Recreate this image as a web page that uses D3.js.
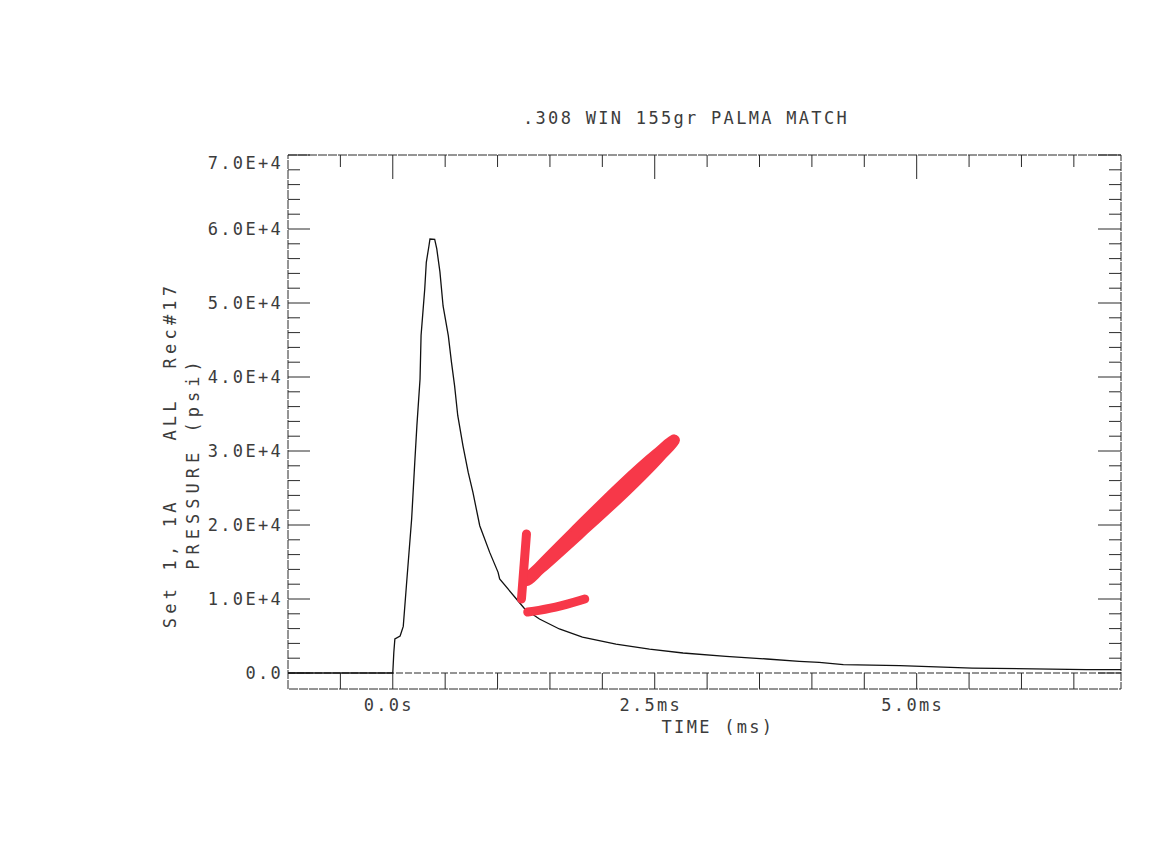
<!doctype html>
<html>
<head>
  <meta charset="utf-8">
  <title>.308 WIN 155gr PALMA MATCH</title>
  <style>
  body{ margin:0; background:#fff; }
  svg text{
    font-family: "DejaVu Sans Mono", "Liberation Mono", monospace;
    font-size: 17px;
    letter-spacing: 2.3px;
    fill: #3c3c3c;
    white-space: pre;
  }
  </style>
</head>
<body>
  <svg></svg>

  <script src="https://d3js.org/d3.v7.min.js"></script>
  <script>
  var width = 1170;
  var height = 850;

  // pressure trace: time (ms) and pressure (psi)
  var timeMs = [-1.0, 0.0, 0.01, 0.02, 0.07, 0.10, 0.13, 0.18, 0.21, 0.23, 0.26, 0.27, 0.29, 0.305,
    0.32, 0.345, 0.355, 0.40, 0.42, 0.45, 0.48, 0.53, 0.56, 0.59, 0.62, 0.67, 0.72, 0.765, 0.83,
    0.925, 1.005, 1.02, 1.18, 1.26, 1.40, 1.59, 1.81, 2.13, 2.45, 2.77, 3.18, 3.57, 3.88, 4.07,
    4.30, 4.84, 5.53, 6.62, 6.95];
  var pressure = [0, 0, 2800, 4600, 5000, 6300, 11800, 20800, 28500, 33400, 39700, 45600, 49200, 51900,
    55500, 57700, 58650, 58600, 57300, 54200, 49600, 45600, 42000, 38800, 34800, 30700, 27100, 24400, 19900,
    16300, 13600, 12700, 10000, 8650, 7300, 5950, 4860, 3900, 3240, 2700, 2250, 1890, 1580, 1440,
    1120, 990, 670, 450, 450];

  var yTicks = [0, 10000, 20000, 30000, 40000, 50000, 60000, 70000];
  var yTickLabels = ['0.0', '1.0E+4', '2.0E+4', '3.0E+4', '4.0E+4', '5.0E+4', '6.0E+4', '7.0E+4'];
  var xTicks = [0, 2.5, 5.0];
  var xTickLabels = ['0.0s', '2.5ms', '5.0ms'];

  var title = '.308 WIN 155gr PALMA MATCH';
  var xTitle = 'TIME (ms)';
  var yTitle = 'PRESSURE (psi)';
  var yInfo = 'Set 1, 1A    ALL  Rec#17';

  // hand drawn red arrow, in data units (ms, psi)
  var arrowShaft = [[2.707, 31750], [1.262, 12300]];
  var arrowLeft = [[1.276, 18800], [1.25, 14000], [1.228, 10000]];
  var arrowFoot = [[1.288, 8240], [1.55, 8800], [1.832, 10000]];

  var box = { left: 288, right: 1121, top: 155, bottom: 689 };

  var svg = d3.select('svg')
    .attr('width', width)
    .attr('height', height);

  var x = d3.scaleLinear().domain([-1, 6.95]).range([box.left, box.right]);
  var y = d3.scaleLinear().domain([0, 70000]).range([673, box.top]);

  var data = timeMs.map(function(t, i){ return { t: t, p: pressure[i] }; });

  // frame
  svg.append('rect')
    .attr('x', box.left).attr('y', box.top)
    .attr('width', box.right - box.left).attr('height', box.bottom - box.top)
    .attr('fill', 'none').attr('stroke', '#2a2a2a').attr('stroke-width', 1)
    .attr('stroke-dasharray', '9,1');

  // zero line
  svg.append('line')
    .attr('x1', box.left).attr('x2', box.right)
    .attr('y1', y(0)).attr('y2', y(0))
    .attr('stroke', '#2a2a2a').attr('stroke-dasharray', '7,2');

  // y ticks on both sides, every 2000 psi
  var minorY = d3.range(0, 70001, 2000);
  svg.selectAll('.ytl').data(minorY).enter().append('line')
    .attr('x1', box.left)
    .attr('x2', function(d){ return box.left + (d % 10000 === 0 ? 22 : 12); })
    .attr('y1', function(d){ return y(d); }).attr('y2', function(d){ return y(d); })
    .attr('stroke', '#2a2a2a');
  svg.selectAll('.ytr').data(minorY).enter().append('line')
    .attr('x1', box.right)
    .attr('x2', function(d){ return box.right - (d % 10000 === 0 ? 23 : 12); })
    .attr('y1', function(d){ return y(d); }).attr('y2', function(d){ return y(d); })
    .attr('stroke', '#2a2a2a');

  // x ticks every 0.5 ms
  var minorX = d3.range(-0.5, 6.9, 0.5);
  svg.selectAll('.xtt').data(minorX).enter().append('line')
    .attr('x1', function(d){ return x(d); }).attr('x2', function(d){ return x(d); })
    .attr('y1', box.top)
    .attr('y2', function(d){ return box.top + (Math.abs(d % 2.5) < 1e-6 ? 24 : 12); })
    .attr('stroke', '#2a2a2a');
  svg.selectAll('.xtb').data(minorX).enter().append('line')
    .attr('x1', function(d){ return x(d); }).attr('x2', function(d){ return x(d); })
    .attr('y1', box.bottom)
    .attr('y2', y(0))
    .attr('stroke', '#2a2a2a');

  // tick labels
  svg.selectAll('.ylab').data(yTicks).enter().append('text')
    .attr('x', 283)
    .attr('y', function(d){ return Math.max(y(d), box.top + 8); })
    .attr('dy', '0.35em')
    .attr('text-anchor', 'end')
    .text(function(d, i){ return yTickLabels[i]; });

  svg.selectAll('.xlab').data(xTicks).enter().append('text')
    .attr('x', function(d){ return x(d) - 4; })
    .attr('y', 711)
    .attr('text-anchor', 'middle')
    .text(function(d, i){ return xTickLabels[i]; });

  // titles
  svg.append('text').attr('x', 686).attr('y', 124).attr('text-anchor', 'middle').text(title);
  svg.append('text').attr('x', 718).attr('y', 733).attr('text-anchor', 'middle').text(xTitle);
  svg.append('text')
    .attr('transform', 'translate(199,463) rotate(-90)')
    .attr('text-anchor', 'middle')
    .style('letter-spacing', '5px')
    .text(yTitle);
  svg.append('text')
    .attr('transform', 'translate(176,455) rotate(-90)')
    .attr('text-anchor', 'middle')
    .style('letter-spacing', '4.2px')
    .text(yInfo);

  // pressure curve
  var line = d3.line()
    .x(function(d){ return x(d.t); })
    .y(function(d){ return y(d.p); });

  svg.append('path')
    .datum(data)
    .attr('d', line)
    .attr('fill', 'none')
    .attr('stroke', '#111')
    .attr('stroke-width', 1.3);

  // red annotation arrow
  var red = '#f73849';
  var arrowLine = d3.line()
    .x(function(d){ return x(d[0]); })
    .y(function(d){ return y(d[1]); })
    .curve(d3.curveBasis);

  // tapered shaft: thicker in the middle like a marker stroke
  var a = [x(arrowShaft[0][0]), y(arrowShaft[0][1])];
  var b = [x(arrowShaft[1][0]), y(arrowShaft[1][1])];
  var len = Math.hypot(b[0] - a[0], b[1] - a[1]);
  var nx = -(b[1] - a[1]) / len, ny = (b[0] - a[0]) / len;
  var fr = [0, 0.12, 0.35, 0.65, 0.9, 1];
  var hw = [3, 6, 7.5, 6.5, 5, 3.5];
  var sideA = fr.map(function(f, i){
    return [a[0] + (b[0] - a[0]) * f + nx * hw[i], a[1] + (b[1] - a[1]) * f + ny * hw[i]];
  });
  var sideB = fr.map(function(f, i){
    return [a[0] + (b[0] - a[0]) * f - nx * hw[i], a[1] + (b[1] - a[1]) * f - ny * hw[i]];
  }).reverse();
  svg.append('path')
    .attr('d', d3.line().curve(d3.curveCatmullRomClosed)(sideA.concat(sideB)))
    .attr('fill', red)
    .attr('stroke', red)
    .attr('stroke-width', 3)
    .attr('stroke-linejoin', 'round');

  [[arrowLeft, 9], [arrowFoot, 9]].forEach(function(s){
    svg.append('path')
      .attr('d', arrowLine(s[0]))
      .attr('fill', 'none')
      .attr('stroke', red)
      .attr('stroke-width', s[1])
      .attr('stroke-linecap', 'round')
      .attr('stroke-linejoin', 'round');
  });
  </script>
</body>
</html>
